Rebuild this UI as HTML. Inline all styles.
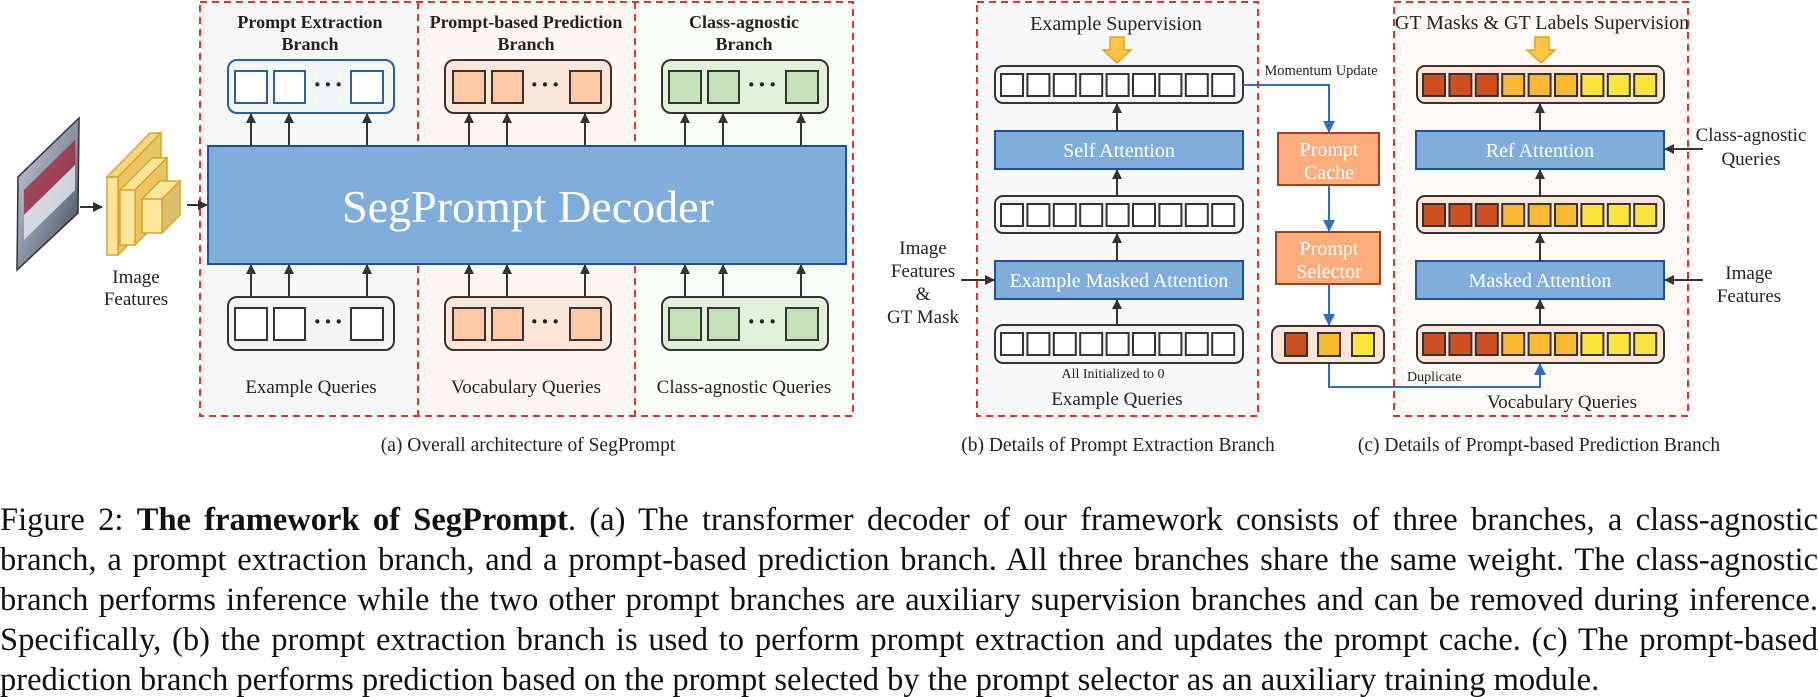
<!DOCTYPE html>
<html><head><meta charset="utf-8"><style>
html,body{margin:0;padding:0;background:#fff;width:1818px;height:697px;overflow:hidden;position:relative}
svg{position:absolute;left:0;top:0}
text{font-family:"Liberation Serif",serif}
.p{position:absolute;left:0;width:1818px;font-family:"Liberation Serif",serif;font-size:32.5px;line-height:40px;color:#111;text-align:justify;text-align-last:justify;white-space:nowrap}
.p.l{text-align-last:left}
</style></head><body>
<svg width="1818" height="697" viewBox="0 0 1818 697">
<defs>
<marker id="ak" markerWidth="10" markerHeight="10" refX="9" refY="5" orient="auto" markerUnits="userSpaceOnUse"><path d="M0,0 L10,5 L0,10 z" fill="#333"/></marker>
<marker id="ab" markerWidth="12" markerHeight="12" refX="11" refY="6" orient="auto" markerUnits="userSpaceOnUse"><path d="M0,0 L12,6 L0,12 z" fill="#2f6fc0"/></marker>
<linearGradient id="bus" x1="0" y1="0" x2="1" y2="1"><stop offset="0" stop-color="#c8d0dc"/><stop offset="0.5" stop-color="#8a94a4"/><stop offset="1" stop-color="#3c4450"/></linearGradient>
</defs>
<rect x="200" y="2" width="218" height="414" fill="#f6f6f6"/>
<rect x="418" y="2" width="217" height="414" fill="#fef8f4"/>
<rect x="635" y="2" width="218" height="414" fill="#fbfdf8"/>
<rect x="977" y="2" width="281" height="414" fill="#f8f8f8"/>
<rect x="1394" y="2" width="294" height="414" fill="#fffaf6"/>
<g fill="none" stroke="#e8312a" stroke-width="2" stroke-dasharray="7,5">
<rect x="200" y="2" width="653" height="414"/>
<line x1="418" y1="2" x2="418" y2="416"/><line x1="635" y1="2" x2="635" y2="416"/>
<rect x="977" y="2" width="281" height="414"/>
<rect x="1394" y="2" width="294" height="414"/>
</g>
<polygon points="79,118 18,177 17,270 78,213" fill="url(#bus)" stroke="#333" stroke-width="1.5"/>
<polygon points="75,140 24,190 24,215 75,165" fill="#a3263a" opacity="0.75"/>
<polygon points="75,165 24,215 24,240 75,190" fill="#e6e8ec" opacity="0.8"/>
<line x1="80" y1="207" x2="102" y2="207" stroke="#333" stroke-width="2" marker-end="url(#ak)"/>
<polygon points="107,177 150,133 161,133 118,177" fill="#f3d77a" stroke="#d9a32a" stroke-width="1.5"/>
<polygon points="118,177 161,133 161,212 118,255" fill="#e8c463" stroke="#d9a32a" stroke-width="1.5"/>
<rect x="107" y="177" width="11" height="78" fill="#fde49a" stroke="#d9a32a" stroke-width="1.5"/>
<polygon points="120,190 152,158 167,158 135,190" fill="#fbe69a" stroke="#d9a32a" stroke-width="1.5"/>
<polygon points="135,190 167,158 167,213 135,245" fill="#e8c463" stroke="#d9a32a" stroke-width="1.5"/>
<rect x="120" y="190" width="15" height="55" fill="#fde79a" stroke="#d9a32a" stroke-width="1.5"/>
<polygon points="142,199 160,181 180,181 162,199" fill="#fbe69a" stroke="#d9a32a" stroke-width="1.5"/>
<polygon points="162,199 180,181 180,215 162,233" fill="#d9bf6e" stroke="#d9a32a" stroke-width="1.5"/>
<rect x="142" y="199" width="20" height="34" fill="#fde79a" stroke="#d9a32a" stroke-width="1.5"/>
<text x="136" y="283" font-size="19" text-anchor="middle" fill="#222">Image</text>
<text x="136" y="305" font-size="19" text-anchor="middle" fill="#222">Features</text>
<line x1="187" y1="205" x2="207" y2="205" stroke="#333" stroke-width="2" marker-end="url(#ak)"/>
<g font-size="18" font-weight="bold" text-anchor="middle" fill="#222">
<text x="310" y="28">Prompt Extraction</text><text x="310" y="50">Branch</text>
<text x="526" y="28">Prompt-based Prediction</text><text x="526" y="50">Branch</text>
<text x="744" y="28">Class-agnostic</text><text x="744" y="50">Branch</text>
</g>
<rect x="228" y="60" width="166" height="53" rx="9" fill="#f4f5f7" stroke="#2a5caa" stroke-width="2"/>
<g fill="#fff" stroke="#2a5caa" stroke-width="2"><rect x="235" y="71" width="32" height="32"/><rect x="274" y="71" width="31" height="32"/><rect x="351" y="71" width="32" height="32"/></g>
<rect x="445" y="60" width="166" height="53" rx="9" fill="#fde5d8" stroke="#333" stroke-width="2"/>
<g fill="#fcc8a6" stroke="#333" stroke-width="2"><rect x="453" y="71" width="32" height="32"/><rect x="492" y="71" width="31" height="32"/><rect x="570" y="71" width="31" height="32"/></g>
<rect x="662" y="60" width="166" height="53" rx="9" fill="#e3f1dc" stroke="#333" stroke-width="2"/>
<g fill="#c4e2b6" stroke="#333" stroke-width="2"><rect x="669" y="71" width="32" height="32"/><rect x="708" y="71" width="31" height="32"/><rect x="786" y="71" width="32" height="32"/></g>
<rect x="228" y="297" width="166" height="53" rx="9" fill="#f4f4f4" stroke="#333" stroke-width="2"/>
<g fill="#fff" stroke="#333" stroke-width="2"><rect x="235" y="308" width="32" height="32"/><rect x="274" y="308" width="31" height="32"/><rect x="351" y="308" width="32" height="32"/></g>
<rect x="445" y="297" width="166" height="53" rx="9" fill="#fde5d8" stroke="#333" stroke-width="2"/>
<g fill="#fcc8a6" stroke="#333" stroke-width="2"><rect x="453" y="308" width="32" height="32"/><rect x="492" y="308" width="31" height="32"/><rect x="570" y="308" width="31" height="32"/></g>
<rect x="662" y="297" width="166" height="53" rx="9" fill="#e3f1dc" stroke="#333" stroke-width="2"/>
<g fill="#c4e2b6" stroke="#333" stroke-width="2"><rect x="669" y="308" width="32" height="32"/><rect x="708" y="308" width="31" height="32"/><rect x="786" y="308" width="32" height="32"/></g>
<g font-size="26" font-weight="bold" fill="#222" text-anchor="middle" letter-spacing="2">
<text x="329" y="93">···</text><text x="546" y="93">···</text><text x="763" y="93">···</text>
<text x="329" y="330">···</text><text x="546" y="330">···</text><text x="763" y="330">···</text>
</g>
<g stroke="#333" stroke-width="2" marker-end="url(#ak)">
<line x1="251" y1="146" x2="251" y2="114"/><line x1="289" y1="146" x2="289" y2="114"/><line x1="367" y1="146" x2="367" y2="114"/>
<line x1="469" y1="146" x2="469" y2="114"/><line x1="507" y1="146" x2="507" y2="114"/><line x1="585" y1="146" x2="585" y2="114"/>
<line x1="685" y1="146" x2="685" y2="114"/><line x1="723" y1="146" x2="723" y2="114"/><line x1="801" y1="146" x2="801" y2="114"/>
<line x1="251" y1="297" x2="251" y2="265"/><line x1="289" y1="297" x2="289" y2="265"/><line x1="367" y1="297" x2="367" y2="265"/>
<line x1="469" y1="297" x2="469" y2="265"/><line x1="507" y1="297" x2="507" y2="265"/><line x1="585" y1="297" x2="585" y2="265"/>
<line x1="685" y1="297" x2="685" y2="265"/><line x1="723" y1="297" x2="723" y2="265"/><line x1="801" y1="297" x2="801" y2="265"/>
</g>
<rect x="208" y="146" width="638" height="118" fill="#80aedb" stroke="#1f4e9a" stroke-width="2"/>
<text x="528" y="222" font-size="46" fill="#fff" text-anchor="middle">SegPrompt Decoder</text>
<g font-size="19" fill="#222" text-anchor="middle">
<text x="311" y="393">Example Queries</text><text x="526" y="393">Vocabulary Queries</text><text x="744" y="393">Class-agnostic Queries</text>
</g>
<text x="1116" y="30" font-size="20" fill="#222" text-anchor="middle">Example Supervision</text>
<polygon points="1110,37 1124,37 1124,50 1131,50 1117,63 1103,50 1110,50" fill="#fdc547" stroke="#e8a317" stroke-width="1.5"/>
<rect x="995" y="66" width="248" height="37" rx="8" fill="#f4f4f4" stroke="#333" stroke-width="2"/>
<rect x="995" y="196" width="248" height="37" rx="8" fill="#f4f4f4" stroke="#333" stroke-width="2"/>
<rect x="995" y="325" width="248" height="38" rx="8" fill="#f4f4f4" stroke="#333" stroke-width="2"/>
<g fill="#fff" stroke="#333" stroke-width="2">
<rect x="1001" y="74" width="22" height="22"/><rect x="1027.4" y="74" width="22" height="22"/><rect x="1053.8" y="74" width="22" height="22"/><rect x="1080.2" y="74" width="22" height="22"/><rect x="1106.6" y="74" width="22" height="22"/><rect x="1133" y="74" width="22" height="22"/><rect x="1159.4" y="74" width="22" height="22"/><rect x="1185.8" y="74" width="22" height="22"/><rect x="1212.2" y="74" width="22" height="22"/>
<rect x="1001" y="204" width="22" height="22"/><rect x="1027.4" y="204" width="22" height="22"/><rect x="1053.8" y="204" width="22" height="22"/><rect x="1080.2" y="204" width="22" height="22"/><rect x="1106.6" y="204" width="22" height="22"/><rect x="1133" y="204" width="22" height="22"/><rect x="1159.4" y="204" width="22" height="22"/><rect x="1185.8" y="204" width="22" height="22"/><rect x="1212.2" y="204" width="22" height="22"/>
<rect x="1001" y="333" width="22" height="22"/><rect x="1027.4" y="333" width="22" height="22"/><rect x="1053.8" y="333" width="22" height="22"/><rect x="1080.2" y="333" width="22" height="22"/><rect x="1106.6" y="333" width="22" height="22"/><rect x="1133" y="333" width="22" height="22"/><rect x="1159.4" y="333" width="22" height="22"/><rect x="1185.8" y="333" width="22" height="22"/><rect x="1212.2" y="333" width="22" height="22"/>
</g>
<rect x="995" y="131" width="248" height="38" fill="#80aedb" stroke="#1f4e9a" stroke-width="2"/>
<rect x="995" y="261" width="248" height="38" fill="#80aedb" stroke="#1f4e9a" stroke-width="2"/>
<g font-size="20" fill="#fff" text-anchor="middle"><text x="1119" y="157">Self Attention</text><text x="1119" y="287">Example Masked Attention</text></g>
<g stroke="#333" stroke-width="2" marker-end="url(#ak)">
<line x1="1117" y1="131" x2="1117" y2="104"/><line x1="1117" y1="196" x2="1117" y2="170"/><line x1="1117" y1="261" x2="1117" y2="234"/><line x1="1117" y1="325" x2="1117" y2="300"/>
<line x1="961" y1="280" x2="994" y2="280"/>
</g>
<text x="1113" y="378" font-size="14" fill="#222" text-anchor="middle">All Initialized to 0</text>
<text x="1117" y="405" font-size="19" fill="#222" text-anchor="middle">Example Queries</text>
<g font-size="19" fill="#222" text-anchor="middle"><text x="923" y="254">Image</text><text x="923" y="277">Features</text><text x="923" y="300">&amp;</text><text x="923" y="323">GT Mask</text></g>
<text x="1321" y="75" font-size="14.5" fill="#222" text-anchor="middle">Momentum Update</text>
<g fill="none" stroke="#2f6fc0" stroke-width="2">
<polyline points="1243,85 1329,85 1329,132" marker-end="url(#ab)"/>
<line x1="1329" y1="185" x2="1329" y2="231" marker-end="url(#ab)"/>
<line x1="1329" y1="284" x2="1329" y2="325" marker-end="url(#ab)"/>
<polyline points="1329,363 1329,387 1540,387 1540,364" marker-end="url(#ab)"/>
</g>
<rect x="1278" y="133" width="101" height="52" fill="#fbad7b" stroke="#a43e1f" stroke-width="2"/>
<rect x="1276" y="232" width="104" height="52" fill="#fbad7b" stroke="#a43e1f" stroke-width="2"/>
<g font-size="20" fill="#fff" text-anchor="middle"><text x="1329" y="156">Prompt</text><text x="1329" y="179">Cache</text><text x="1329" y="255">Prompt</text><text x="1329" y="278">Selector</text></g>
<rect x="1272" y="326" width="112" height="37" rx="8" fill="#fde5d8" stroke="#333" stroke-width="2"/>
<g stroke="#333" stroke-width="2"><rect x="1285" y="333" width="22" height="23" fill="#cf4e1e"/><rect x="1318" y="333" width="22" height="23" fill="#fbb92d"/><rect x="1352" y="333" width="22" height="23" fill="#fde63a"/></g>
<text x="1407" y="381" font-size="14" fill="#222">Duplicate</text>
<text x="1542" y="29" font-size="20" fill="#222" text-anchor="middle">GT Masks &amp; GT Labels Supervision</text>
<polygon points="1535,37 1549,37 1549,50 1555,50 1541,63 1527,50 1535,50" fill="#fdc547" stroke="#e8a317" stroke-width="1.5"/>
<rect x="1417" y="66" width="247" height="37" rx="8" fill="#fde5d8" stroke="#333" stroke-width="2"/>
<rect x="1417" y="196" width="247" height="37" rx="8" fill="#fde5d8" stroke="#333" stroke-width="2"/>
<rect x="1417" y="325" width="247" height="38" rx="8" fill="#fde5d8" stroke="#333" stroke-width="2"/>
<g stroke="#333" stroke-width="2">
<g fill="#d04f1e"><rect x="1423" y="74" width="22" height="22"/><rect x="1449.4" y="74" width="22" height="22"/><rect x="1475.8" y="74" width="22" height="22"/>
<rect x="1423" y="204" width="22" height="22"/><rect x="1449.4" y="204" width="22" height="22"/><rect x="1475.8" y="204" width="22" height="22"/>
<rect x="1423" y="333" width="22" height="22"/><rect x="1449.4" y="333" width="22" height="22"/><rect x="1475.8" y="333" width="22" height="22"/></g>
<g fill="#fbb830"><rect x="1502.2" y="74" width="22" height="22"/><rect x="1528.6" y="74" width="22" height="22"/><rect x="1555" y="74" width="22" height="22"/>
<rect x="1502.2" y="204" width="22" height="22"/><rect x="1528.6" y="204" width="22" height="22"/><rect x="1555" y="204" width="22" height="22"/>
<rect x="1502.2" y="333" width="22" height="22"/><rect x="1528.6" y="333" width="22" height="22"/><rect x="1555" y="333" width="22" height="22"/></g>
<g fill="#fde43a"><rect x="1581.4" y="74" width="22" height="22"/><rect x="1607.8" y="74" width="22" height="22"/><rect x="1634.2" y="74" width="22" height="22"/>
<rect x="1581.4" y="204" width="22" height="22"/><rect x="1607.8" y="204" width="22" height="22"/><rect x="1634.2" y="204" width="22" height="22"/>
<rect x="1581.4" y="333" width="22" height="22"/><rect x="1607.8" y="333" width="22" height="22"/><rect x="1634.2" y="333" width="22" height="22"/></g>
</g>
<rect x="1416" y="131" width="248" height="38" fill="#80aedb" stroke="#1f4e9a" stroke-width="2"/>
<rect x="1416" y="261" width="248" height="38" fill="#80aedb" stroke="#1f4e9a" stroke-width="2"/>
<g font-size="20" fill="#fff" text-anchor="middle"><text x="1540" y="157">Ref Attention</text><text x="1540" y="287">Masked Attention</text></g>
<g stroke="#333" stroke-width="2" marker-end="url(#ak)">
<line x1="1540" y1="131" x2="1540" y2="104"/><line x1="1540" y1="196" x2="1540" y2="170"/><line x1="1540" y1="261" x2="1540" y2="234"/><line x1="1540" y1="325" x2="1540" y2="300"/>
<line x1="1703" y1="149" x2="1665" y2="149"/><line x1="1703" y1="280" x2="1665" y2="280"/>
</g>
<g font-size="19" fill="#222" text-anchor="middle"><text x="1751" y="141">Class-agnostic</text><text x="1751" y="165">Queries</text><text x="1749" y="279">Image</text><text x="1749" y="302">Features</text></g>
<text x="1562" y="408" font-size="19" fill="#222" text-anchor="middle">Vocabulary Queries</text>
<g font-size="19.5" fill="#222" text-anchor="middle">
<text x="528" y="451">(a) Overall architecture of SegPrompt</text>
<text x="1118" y="451">(b) Details of Prompt Extraction Branch</text>
<text x="1539" y="451">(c) Details of Prompt-based Prediction Branch</text>
</g>
</svg>
<div class="p" style="top:500px">Figure 2: <b>The framework of SegPrompt</b>. (a) The transformer decoder of our framework consists of three branches, a class-agnostic</div>
<div class="p" style="top:540px">branch, a prompt extraction branch, and a prompt-based prediction branch. All three branches share the same weight. The class-agnostic</div>
<div class="p" style="top:580px">branch performs inference while the two other prompt branches are auxiliary supervision branches and can be removed during inference.</div>
<div class="p" style="top:620px">Specifically, (b) the prompt extraction branch is used to perform prompt extraction and updates the prompt cache. (c) The prompt-based</div>
<div class="p l" style="top:660px">prediction branch performs prediction based on the prompt selected by the prompt selector as an auxiliary training module.</div>
</body></html>
